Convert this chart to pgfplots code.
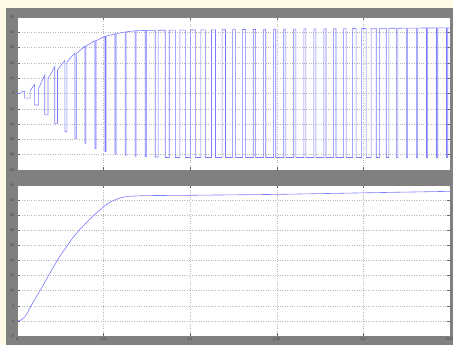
\documentclass[border=0pt]{standalone}
\usepackage{pgfplots}
\pgfplotsset{compat=1.18}
\usepackage{fontspec}
\setmainfont{Liberation Sans}
\definecolor{cream}{RGB}{255,250,232}
\definecolor{framegrey}{RGB}{128,128,128}
\definecolor{sig}{RGB}{122,122,255}
\begin{document}
\begin{tikzpicture}
\useasboundingbox (0bp,0bp) rectangle (453bp,345bp);
\fill[cream] (0bp,0bp) rectangle (453bp,345bp);
\fill[framegrey] (6bp,0bp) rectangle (453bp,337bp);
\pgfplotsset{scopestyle/.style={
  scale only axis, width=433bp, anchor=south west,
  xmin=0, xmax=0.25, xtick={0,0.05,0.1,0.15,0.2,0.25},
  scaled x ticks=false, scaled y ticks=false,
  grid=major, major grid style={dotted, black!28, line width=0.5bp},
  tick align=inside, major tick length=3bp,
  tick style={black!60, line width=0.4bp},
  axis line style={black!50, line width=0.5bp},
  axis background/.style={fill=white},
  tick label style={font=\fontsize{3.6}{4}\selectfont, text=black!75},
  /pgf/number format/assume math mode=true,
  yticklabel style={xshift=1bp},
  xticklabel style={yshift=1.5bp},
}}
\begin{axis}[scopestyle, at={(17bp,175bp)}, height=153bp,
  ymin=-50, ymax=50, ytick={-50,-40,-30,-20,-10,0,10,20,30,40,50},
  xticklabels={}]
\addplot[sig, line width=0.6bp] coordinates {
(0,0) (0.0018,0) (0.0018,0.8) (0.0044,1.5)
(0.0044,-3) (0.0076,-3) (0.0076,1.8)
(0.0102,6) (0.0102,-7.5) (0.0125,-7.5) (0.0125,3.5)
(0.0160,12) (0.0160,-14) (0.0179,-14) (0.0179,9.5)
(0.0218,17.5) (0.0218,-19.5) (0.0234,-19.5) (0.0234,15.5)
(0.0276,21.5) (0.0276,-25) (0.0288,-25) (0.0288,20.5)
(0.0334,26.5) (0.0334,-29.5) (0.0342,-29.5) (0.0342,26)
(0.0392,31) (0.0392,-32.6) (0.0398,-32.6) (0.0398,31)
(0.0450,34.5) (0.0450,-36) (0.0456,-36) (0.0456,34.5)
(0.0508,37.3) (0.0508,-38) (0.0514,-38) (0.0514,37.4)
(0.0566,39) (0.0566,-39.6) (0.0572,-39.6) (0.0572,39.1)
(0.0624,40.2) (0.0624,-40.4) (0.0630,-40.4) (0.0630,40.3)
(0.0682,41) (0.0682,-41) (0.0688,-41) (0.0688,41)
(0.0740,41.2) (0.0740,-41.2) (0.0746,-41.2) (0.0746,41.2)
(0.0798,41.3) (0.0798,-41.5) (0.0815,-41.5) (0.0815,41.3)
(0.0856,41.35) (0.0856,-41.8) (0.0879,-41.8) (0.0879,41.4)
(0.0914,41.4) (0.0914,-41.8) (0.0940,-41.8) (0.0940,41.4)
(0.0972,41.45) (0.0972,-41.8) (0.1001,-41.8) (0.1001,41.5)
(0.1030,41.5) (0.1030,-41.8) (0.1062,-41.8) (0.1062,41.55)
(0.1088,41.6) (0.1088,-41.8) (0.1123,-41.8) (0.1123,41.6)
(0.1146,41.6) (0.1146,-41.8) (0.1184,-41.8) (0.1184,41.65)
(0.1204,41.7) (0.1204,-41.8) (0.1245,-41.8) (0.1245,41.7)
(0.1262,41.75) (0.1262,-41.8) (0.1303,-41.8) (0.1303,41.8)
(0.1320,41.8) (0.1320,-41.8) (0.1364,-41.8) (0.1364,41.85)
(0.1378,41.85) (0.1378,-41.8) (0.1424,-41.8) (0.1424,41.9)
(0.1436,41.9) (0.1436,-41.8) (0.1482,-41.8) (0.1482,41.95)
(0.1494,42) (0.1494,-41.8) (0.1540,-41.8) (0.1540,42)
(0.1552,42.05) (0.1552,-41.8) (0.1598,-41.8) (0.1598,42.1)
(0.1610,42.1) (0.1610,-41.8) (0.1656,-41.8) (0.1656,42.15)
(0.1668,42.15) (0.1668,-41.8) (0.1714,-41.8) (0.1714,42.2)
(0.1726,42.2) (0.1726,-41.8) (0.1772,-41.8) (0.1772,42.25)
(0.1784,42.3) (0.1784,-41.8) (0.1828,-41.8) (0.1828,42.3)
(0.1842,42.35) (0.1842,-41.8) (0.1886,-41.8) (0.1886,42.4)
(0.1900,42.4) (0.1900,-41.8) (0.1938,-41.8) (0.1938,42.45)
(0.1958,42.45) (0.1958,-41.8) (0.1990,-41.8) (0.1990,42.5)
(0.2016,42.5) (0.2016,-41.8) (0.2045,-41.8) (0.2045,42.55)
(0.2074,42.55) (0.2074,-41.8) (0.2094,-41.8) (0.2094,42.6)
(0.2132,42.6) (0.2132,-41.8) (0.2147,-41.8) (0.2147,42.6)
(0.2190,42.65) (0.2190,-41.8) (0.2199,-41.8) (0.2199,42.65)
(0.2248,42.7) (0.2248,-41.8) (0.2255,-41.8) (0.2255,42.7)
(0.2306,42.75) (0.2306,-41.8) (0.2313,-41.8) (0.2313,42.75)
(0.2364,42.8) (0.2364,-41.8) (0.2371,-41.8) (0.2371,42.8)
(0.2422,42.85) (0.2422,-41.8) (0.2429,-41.8) (0.2429,42.85)
(0.2480,42.9) (0.2480,-41.8) (0.2487,-41.8) (0.2487,42.9)
(0.25,42.9)
};
\end{axis}
\begin{axis}[scopestyle, at={(17bp,9bp)}, height=151bp,
  ymin=-5, ymax=45, ytick={-5,0,5,10,15,20,25,30,35,40,45},
  xticklabels={0,0.05,0.1,0.15,0.2,0.25}]
\addplot[sig, line width=0.6bp, smooth] coordinates {
(0,0) (0.0017,0.1) (0.003,0.6) (0.0047,1.5) (0.0065,3.2) (0.0093,6.2)
(0.012,8.8) (0.0145,11.2) (0.017,13.8) (0.0192,16) (0.0215,18.3)
(0.0238,20.5) (0.0265,22.9) (0.0291,24.9) (0.0315,27) (0.0337,28.5)
(0.036,30.1) (0.0384,31.5) (0.041,33.1) (0.0436,34.5) (0.046,35.8)
(0.0483,37) (0.0505,38) (0.0529,39) (0.0555,39.8) (0.0581,40.4)
(0.061,40.9) (0.064,41.2) (0.0698,41.4) (0.0773,41.5) (0.1,41.6)
(0.15,41.9) (0.2,42.4) (0.25,42.9)
};
\end{axis}
\end{tikzpicture}
\end{document}
